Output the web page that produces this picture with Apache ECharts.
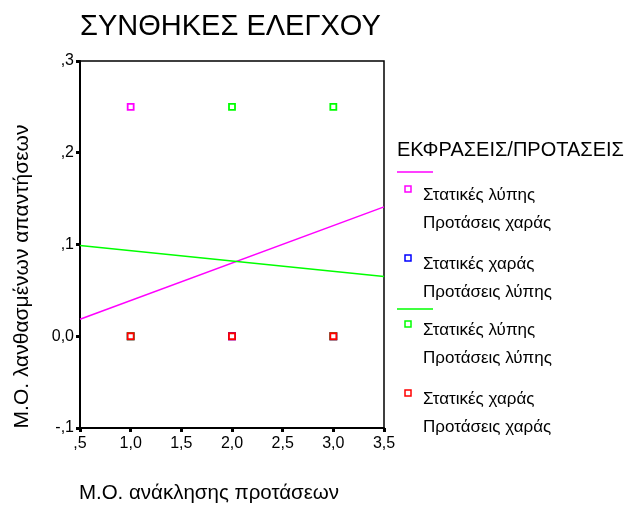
<!DOCTYPE html>
<html><head><meta charset="utf-8">
<script src="https://cdn.jsdelivr.net/npm/echarts@6/dist/echarts.min.js"></script>
<style>html,body{margin:0;padding:0;background:#fff}#c{width:628px;height:509px}</style>
</head><body><div id="c"></div>
<script>
var titleText = 'ΣΥΝΘΗΚΕΣ ΕΛΕΓΧΟΥ';
var xName = 'Μ.Ο. ανάκλησης προτάσεων';
var yName = 'Μ.Ο. λανθασμένων απαντήσεων';
var legendTitle = 'ΕΚΦΡΑΣΕΙΣ/ΠΡΟΤΑΣΕΙΣ';
var xTickValues = [0.5, 1.0, 1.5, 2.0, 2.5, 3.0, 3.5];
var xTickLabels = [',5', '1,0', '1,5', '2,0', '2,5', '3,0', '3,5'];
var yTickValues = [-0.1, 0, 0.1, 0.2, 0.3];
var yTickLabels = ['-,1', '0,0', ',1', ',2', ',3'];
var seriesNames = ['Στατικές λύπης\nΠροτάσεις χαράς', 'Στατικές χαράς\nΠροτάσεις λύπης', 'Στατικές λύπης\nΠροτάσεις λύπης', 'Στατικές χαράς\nΠροτάσεις χαράς'];
var seriesColors = ['#ff00ff', '#0000ff', '#00ff00', '#ff0000'];
var pointsS1 = [[1, 0.25], [2, 0], [3, 0]];
var pointsS2 = [[1, 0], [2, 0], [3, 0]];
var pointsS3 = [[1, 0], [2, 0.25], [3, 0.25], [3, 0]];
var pointsS4 = [[1, 0], [2, 0], [3, 0]];
var fitS1 = [[0.5, 0.0186], [3.5, 0.141]];
var fitS3 = [[0.5, 0.099], [3.5, 0.065]];

function lab(vals, labs) {
  return function (v) {
    for (var i = 0; i < vals.length; i++) if (Math.abs(vals[i] - v) < 1e-6) return labs[i];
    return '';
  };
}
var FONT = '"Liberation Sans", Arial, sans-serif';
var pts = [pointsS1, pointsS2, pointsS3, pointsS4];
var series = [];
series.push({type: 'line', data: fitS1, showSymbol: false, silent: true, z: 1,
  lineStyle: {color: seriesColors[0], width: 1.5}});
series.push({type: 'line', data: fitS3, showSymbol: false, silent: true, z: 1,
  lineStyle: {color: seriesColors[2], width: 1.5}});
for (var i = 0; i < 4; i++) {
  series.push({type: 'scatter', name: seriesNames[i], data: pts[i], symbol: 'rect', symbolSize: 6, z: 3 + i,
    itemStyle: {color: '#fff', borderColor: seriesColors[i], borderWidth: 1.8, opacity: 1}});
}

// legend drawn as graphic elements
var g = [];
g.push({type: 'text', x: 397, y: 150, style: {text: legendTitle, font: '20px ' + FONT, fill: '#000', textVerticalAlign: 'middle'}});
var lineYs = [172, null, 309, null];
var markerYs = [189, 258, 324, 393];
for (var j = 0; j < 4; j++) {
  if (lineYs[j] !== null) {
    g.push({type: 'line', shape: {x1: 397, y1: lineYs[j], x2: 433, y2: lineYs[j]}, style: {stroke: seriesColors[j], lineWidth: 1.5}});
  }
  g.push({type: 'rect', shape: {x: 405, y: markerYs[j] - 3, width: 6, height: 6},
    style: {fill: '#fff', stroke: seriesColors[j], lineWidth: 1.5}});
  var parts = seriesNames[j].split('\n');
  g.push({type: 'text', x: 423, y: markerYs[j] + 6, style: {text: parts[0], font: '17px ' + FONT, fill: '#000', textVerticalAlign: 'middle'}});
  g.push({type: 'text', x: 423, y: markerYs[j] + 34, style: {text: parts[1], font: '17px ' + FONT, fill: '#000', textVerticalAlign: 'middle'}});
}

var chart = echarts.init(document.getElementById('c'), null, {renderer: 'canvas'});
chart.setOption({
  animation: false,
  backgroundColor: '#fff',
  title: {text: titleText, left: 75, top: 7, textStyle: {fontFamily: FONT, fontSize: 29, fontWeight: 'normal', color: '#000'}},
  grid: {left: 80, right: 244, top: 61, bottom: 77, show: true, borderColor: '#000', borderWidth: 1.5, backgroundColor: 'transparent'},
  xAxis: {type: 'value', min: 0.5, max: 3.5, interval: 0.5,
    name: xName, nameLocation: 'middle', nameGap: 55,
    nameTextStyle: {fontFamily: FONT, fontSize: 20.5, color: '#000', padding: [0, 46, 0, 0]},
    axisLine: {show: true, onZero: false, lineStyle: {color: '#000', width: 2}},
    axisTick: {show: true, inside: false, length: 4, lineStyle: {color: '#000', width: 3}},
    axisLabel: {formatter: lab(xTickValues, xTickLabels), fontFamily: FONT, fontSize: 16, color: '#000', margin: 8},
    splitLine: {show: false}},
  yAxis: {type: 'value', min: -0.1, max: 0.3, interval: 0.1,
    name: yName, nameLocation: 'middle', nameGap: 47, nameRotate: 90,
    nameTextStyle: {fontFamily: FONT, fontSize: 21, color: '#000', padding: [0, 64, 0, 0]},
    axisLine: {show: true, onZero: false, lineStyle: {color: '#000', width: 2}},
    axisTick: {show: true, inside: false, length: 4, lineStyle: {color: '#000', width: 3}},
    axisLabel: {formatter: lab(yTickValues, yTickLabels), fontFamily: FONT, fontSize: 16, color: '#000', margin: 6},
    splitLine: {show: false}},
  graphic: g,
  series: series
});
</script></body></html>
